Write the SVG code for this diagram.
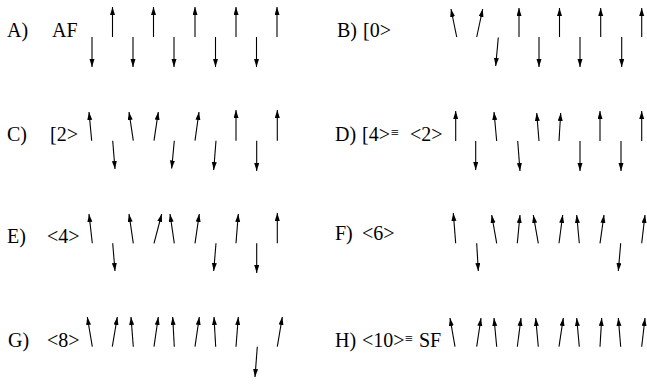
<svg xmlns="http://www.w3.org/2000/svg" width="647" height="384" viewBox="0 0 647 384">
<style>
text{font-family:"Liberation Serif","Times New Roman",serif;font-size:20px;fill:#000}
.eq{font-size:14px}
.s{stroke:#000;stroke-width:1.1;fill:none;marker-end:url(#ah)}
</style>
<defs>
<marker id="ah" markerUnits="userSpaceOnUse" markerWidth="9" markerHeight="6" refX="8" refY="2.5" orient="auto">
<path d="M0,0 L8,2.5 L0,5 z" fill="#000"/>
</marker>
</defs>
<rect width="647" height="384" fill="#fff"/>
<g id="labels">
<text x="7" y="37">A)</text><text x="52" y="37">AF</text>
<text x="337" y="37">B)</text><text x="363" y="37">[0&gt;</text>
<text x="7" y="141">C)</text><text x="50" y="141">[2&gt;</text>
<text x="335" y="141">D)</text><text x="362" y="141">[4&gt;</text><text class="eq" x="391" y="137">≡</text><text x="410" y="141">&lt;2&gt;</text>
<text x="7" y="243">E)</text><text x="47" y="243">&lt;4&gt;</text>
<text x="335" y="240">F)</text><text x="362" y="240">&lt;6&gt;</text>
<text x="8" y="347">G)</text><text x="47" y="347">&lt;8&gt;</text>
<text x="335" y="347">H)</text><text x="362" y="347">&lt;10&gt;</text><text class="eq" x="405" y="343">≡</text><text x="419" y="347">SF</text>
</g>
<g id="connectors">
<g id="rowA">
<line class="s" x1="92" y1="37" x2="92" y2="67"/>
<line class="s" x1="112.5" y1="37" x2="112.5" y2="7"/>
<line class="s" x1="133" y1="37" x2="133" y2="67"/>
<line class="s" x1="153.5" y1="37" x2="153.5" y2="7"/>
<line class="s" x1="174" y1="37" x2="174" y2="67"/>
<line class="s" x1="195" y1="37" x2="195" y2="7"/>
<line class="s" x1="215.5" y1="37" x2="215.5" y2="67"/>
<line class="s" x1="236" y1="37" x2="236" y2="7"/>
<line class="s" x1="256.5" y1="37" x2="256.5" y2="67"/>
<line class="s" x1="277" y1="37" x2="277" y2="7"/>
</g>
<g id="rowB">
<line class="s" x1="456.7" y1="37" x2="451" y2="9"/>
<line class="s" x1="476.7" y1="37" x2="482.7" y2="9"/>
<line class="s" x1="498.3" y1="37.5" x2="495.7" y2="66"/>
<line class="s" x1="519" y1="37" x2="519" y2="8"/>
<line class="s" x1="539" y1="37" x2="539" y2="67"/>
<line class="s" x1="559.5" y1="37" x2="559.5" y2="8"/>
<line class="s" x1="580" y1="37" x2="580" y2="67"/>
<line class="s" x1="600.7" y1="37" x2="600.7" y2="8"/>
<line class="s" x1="621.7" y1="37" x2="621.7" y2="67"/>
<line class="s" x1="641.7" y1="37" x2="641.7" y2="8"/>
</g>
<g id="rowC">
<line class="s" x1="91.7" y1="140.7" x2="89" y2="112"/>
<line class="s" x1="112.7" y1="140.7" x2="115" y2="169"/>
<line class="s" x1="133.3" y1="140.7" x2="129" y2="112"/>
<line class="s" x1="154" y1="140.7" x2="158.3" y2="112"/>
<line class="s" x1="174.3" y1="140.7" x2="171.7" y2="168.5"/>
<line class="s" x1="195" y1="140.7" x2="199" y2="112"/>
<line class="s" x1="216" y1="140.7" x2="213.7" y2="170"/>
<line class="s" x1="236" y1="140.7" x2="236" y2="110"/>
<line class="s" x1="256.7" y1="140.7" x2="256.7" y2="171"/>
<line class="s" x1="277.3" y1="140.7" x2="277.3" y2="110"/>
</g>
<g id="rowD">
<line class="s" x1="455.7" y1="141" x2="455.7" y2="111"/>
<line class="s" x1="475.7" y1="141" x2="475.7" y2="170"/>
<line class="s" x1="496.7" y1="141" x2="494" y2="112"/>
<line class="s" x1="517.7" y1="141" x2="520" y2="171"/>
<line class="s" x1="539" y1="141" x2="536.7" y2="113"/>
<line class="s" x1="559" y1="141" x2="560.7" y2="113"/>
<line class="s" x1="580" y1="141" x2="580" y2="171"/>
<line class="s" x1="600" y1="141" x2="600" y2="111"/>
<line class="s" x1="621" y1="141" x2="621" y2="171"/>
<line class="s" x1="641.7" y1="141" x2="641.7" y2="111"/>
</g>
<g id="rowE">
<line class="s" x1="92.3" y1="243.3" x2="89" y2="214"/>
<line class="s" x1="112.7" y1="243.3" x2="115" y2="271"/>
<line class="s" x1="133.3" y1="243.3" x2="129" y2="214"/>
<line class="s" x1="154" y1="243.3" x2="161.7" y2="214"/>
<line class="s" x1="174.3" y1="243.3" x2="170" y2="214"/>
<line class="s" x1="195" y1="243.3" x2="199.3" y2="214"/>
<line class="s" x1="216" y1="243.3" x2="213.7" y2="271"/>
<line class="s" x1="236" y1="243.3" x2="238.3" y2="214"/>
<line class="s" x1="256.7" y1="243.3" x2="256.7" y2="273"/>
<line class="s" x1="277.3" y1="243.3" x2="277.3" y2="213"/>
</g>
<g id="rowF">
<line class="s" x1="455.7" y1="243.3" x2="453.3" y2="213"/>
<line class="s" x1="476.7" y1="243.3" x2="478.3" y2="271"/>
<line class="s" x1="496.7" y1="243.3" x2="491.7" y2="215"/>
<line class="s" x1="517.3" y1="243.3" x2="520" y2="215"/>
<line class="s" x1="538.3" y1="243.3" x2="533.3" y2="215"/>
<line class="s" x1="559" y1="243.3" x2="562.7" y2="215"/>
<line class="s" x1="579.3" y1="243.3" x2="576.7" y2="215"/>
<line class="s" x1="600" y1="243.3" x2="604" y2="215"/>
<line class="s" x1="620.7" y1="243.3" x2="618.3" y2="271"/>
<line class="s" x1="641.7" y1="243.3" x2="645" y2="215"/>
</g>
<g id="rowG">
<line class="s" x1="92.3" y1="346.7" x2="87.3" y2="317"/>
<line class="s" x1="112.3" y1="346.7" x2="117.3" y2="317"/>
<line class="s" x1="133.3" y1="346.7" x2="131" y2="317"/>
<line class="s" x1="154" y1="346.7" x2="158.3" y2="317"/>
<line class="s" x1="174.3" y1="346.7" x2="172.7" y2="317"/>
<line class="s" x1="195" y1="346.7" x2="199.3" y2="317"/>
<line class="s" x1="215.7" y1="346.7" x2="214" y2="317"/>
<line class="s" x1="236" y1="346.7" x2="238.3" y2="317"/>
<line class="s" x1="257.3" y1="346.7" x2="255" y2="377"/>
<line class="s" x1="277.3" y1="346.7" x2="282.3" y2="317"/>
</g>
<g id="rowH">
<line class="s" x1="455" y1="346.7" x2="450" y2="318"/>
<line class="s" x1="476.7" y1="346.7" x2="481" y2="318"/>
<line class="s" x1="496.7" y1="346.7" x2="494" y2="318"/>
<line class="s" x1="517.3" y1="346.7" x2="521" y2="318"/>
<line class="s" x1="538.3" y1="346.7" x2="535.7" y2="318"/>
<line class="s" x1="559" y1="346.7" x2="563.3" y2="318"/>
<line class="s" x1="579.3" y1="346.7" x2="576.7" y2="318"/>
<line class="s" x1="600" y1="346.7" x2="601.7" y2="318"/>
<line class="s" x1="620.7" y1="346.7" x2="618.3" y2="318"/>
<line class="s" x1="641.7" y1="346.7" x2="645" y2="318"/>
</g>
</g>
</svg>
